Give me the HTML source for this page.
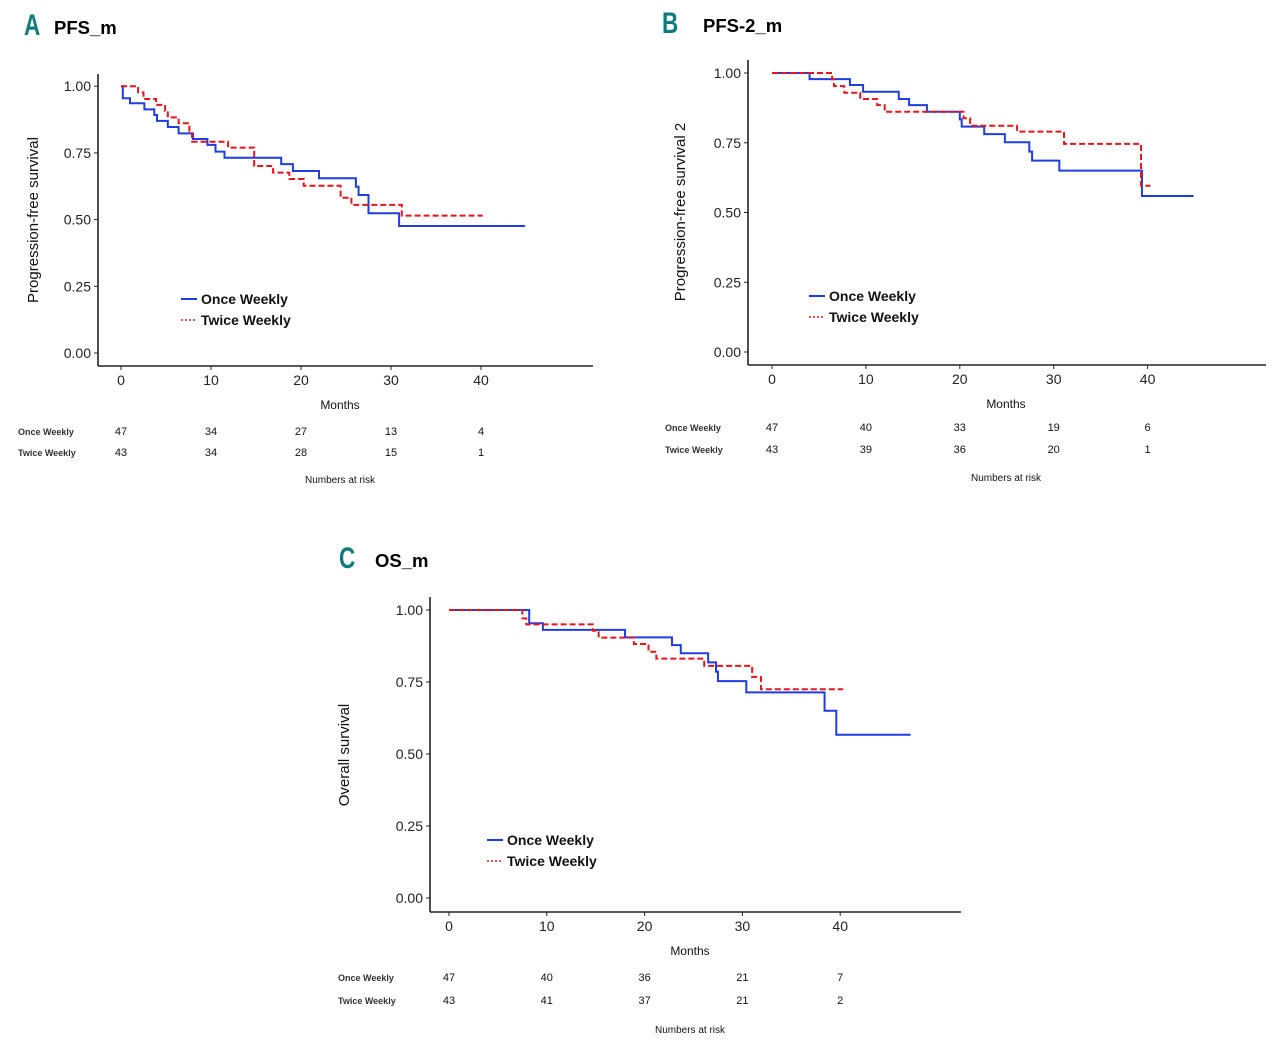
<!DOCTYPE html>
<html><head><meta charset="utf-8">
<style>
html,body{margin:0;padding:0;background:#fff;}
svg{display:block;font-family:"Liberation Sans",Arial,sans-serif;}
</style></head>
<body>
<svg id="fig" width="1280" height="1046" viewBox="0 0 1280 1046" xmlns="http://www.w3.org/2000/svg"></svg>
<script>
// ---- Data ----
const ticksX = [0, 10, 20, 30, 40];
const ticksY = [0, 0.25, 0.5, 0.75, 1.0];
const tickYLabels = ["0.00", "0.25", "0.50", "0.75", "1.00"];

const aOnceT = [0, 0.2, 1.0, 2.6, 3.7, 4.0, 5.2, 6.4, 8.0, 9.6, 10.5, 11.5, 17.8, 19.1, 22.0, 26.1, 26.4, 27.5, 30.9, 44.9];
const aOnceS = [1.0, 0.955, 0.936, 0.913, 0.892, 0.870, 0.847, 0.823, 0.802, 0.780, 0.755, 0.732, 0.708, 0.682, 0.655, 0.623, 0.592, 0.524, 0.476, 0.476];
const aTwiceT = [0, 1.9, 2.5, 3.9, 4.9, 5.2, 6.4, 7.6, 7.9, 11.9, 14.8, 16.9, 18.7, 20.3, 24.4, 25.6, 31.2, 40.2];
const aTwiceS = [1.0, 0.977, 0.952, 0.930, 0.907, 0.883, 0.861, 0.823, 0.792, 0.770, 0.701, 0.676, 0.652, 0.627, 0.582, 0.555, 0.515, 0.515];
const aRiskOnce = [47, 34, 27, 13, 4];
const aRiskTwice = [43, 34, 28, 15, 1];

const bOnceT = [0, 4.0, 8.3, 9.7, 13.5, 14.6, 16.5, 20.0, 20.2, 22.6, 24.8, 27.4, 27.7, 30.6, 39.4, 44.9];
const bOnceS = [1.0, 0.978, 0.957, 0.933, 0.907, 0.885, 0.861, 0.834, 0.808, 0.781, 0.752, 0.718, 0.686, 0.650, 0.559, 0.559];
const bTwiceT = [0, 6.4, 6.6, 7.7, 9.4, 11.2, 12.0, 20.4, 21.1, 26.1, 31.1, 39.3, 40.3];
const bTwiceS = [1.0, 0.977, 0.953, 0.929, 0.907, 0.885, 0.861, 0.838, 0.811, 0.790, 0.746, 0.596, 0.596];
const bRiskOnce = [47, 40, 33, 19, 6];
const bRiskTwice = [43, 39, 36, 20, 1];

const cOnceT = [0, 8.2, 9.6, 18.0, 22.8, 23.7, 26.5, 27.3, 27.5, 30.4, 38.4, 39.6, 47.2];
const cOnceS = [1.0, 0.954, 0.931, 0.905, 0.878, 0.850, 0.818, 0.786, 0.753, 0.714, 0.650, 0.567, 0.567];
const cTwiceT = [0, 7.5, 7.9, 14.7, 15.3, 18.9, 20.4, 21.2, 26.1, 31.0, 31.9, 40.3];
const cTwiceS = [1.0, 0.971, 0.950, 0.928, 0.904, 0.882, 0.855, 0.831, 0.806, 0.768, 0.725, 0.725];
const cRiskOnce = [47, 40, 36, 21, 7];
const cRiskTwice = [43, 41, 37, 21, 2];

const NS = "http://www.w3.org/2000/svg";
const svg = document.getElementById("fig");
function mk(tag, attrs, parent, text) {
  const e = document.createElementNS(NS, tag);
  for (const k in attrs) e.setAttribute(k, attrs[k]);
  if (text !== undefined) e.textContent = text;
  (parent || svg).appendChild(e);
  return e;
}
function stepPath(T, S, sx, sy) {
  let d = "M" + sx(T[0]) + "," + sy(S[0]);
  for (let i = 1; i < T.length; i++) {
    d += " H" + sx(T[i]) + " V" + sy(S[i]);
  }
  return d;
}

function panel(cfg) {
  const g = mk("g", {});
  
  
  const sx = t => cfg.x0 + t * cfg.pxm;
  const sy = s => cfg.y0 - s * cfg.pxs;
  const L = mk("text", {x: cfg.letterX, y: cfg.letterY, "font-size": 30, "font-weight": "bold", fill: "#0e7c7b", "font-family": "Liberation Sans Narrow, Liberation Sans, sans-serif", transform: `scale(0.75,1)`, "transform-origin": `${cfg.letterX} ${cfg.letterY}`}, g, cfg.letter);
  
  
  const tt = mk("text", {x: cfg.titleX, y: cfg.letterY - 1, "font-size": 18.5, "font-weight": "bold", fill: "#000"}, g, cfg.title);
  
  
  const ya = mk("line", {x1: cfg.axX, y1: cfg.axTop, x2: cfg.axX, y2: cfg.axY, stroke: "#222", "stroke-width": 1.6}, g);
  
  
  const xa = mk("line", {x1: cfg.axX, y1: cfg.axY, x2: cfg.axRight, y2: cfg.axY, stroke: "#222", "stroke-width": 1.6}, g);
  
  
  ticksY.forEach((v, i) => {
    mk("line", {x1: cfg.axX - 4, y1: sy(v), x2: cfg.axX, y2: sy(v), stroke: "#222", "stroke-width": 1}, g);
    const t = mk("text", {x: cfg.axX - 7, y: sy(v) + 5, "font-size": 14, "text-anchor": "end", fill: "#222"}, g, tickYLabels[i]);
    
    
  });
  ticksX.forEach(v => {
    mk("line", {x1: sx(v), y1: cfg.axY, x2: sx(v), y2: cfg.axY + 4, stroke: "#222", "stroke-width": 1}, g);
    const t = mk("text", {x: sx(v), y: cfg.axY + 19, "font-size": 14, "text-anchor": "middle", fill: "#222"}, g, String(v));
    
    
  });
  const yt = mk("text", {x: 0, y: 0, "font-size": 15, "text-anchor": "middle", fill: "#111", transform: `translate(${cfg.yTitleX},${cfg.yTitleY}) rotate(-90)`}, g, cfg.yTitle);
  
  
  const xt = mk("text", {x: cfg.monthsX, y: cfg.axY + 43, "font-size": 12, "text-anchor": "middle", fill: "#111"}, g, "Months");
  
  
  const pO = mk("path", {d: stepPath(cfg.oT, cfg.oS, sx, sy), fill: "none", stroke: "#1f3de0", "stroke-width": 2}, g);
  
  
  const pT = mk("path", {d: stepPath(cfg.tT, cfg.tS, sx, sy), fill: "none", stroke: "#e8141c", "stroke-width": 2, "stroke-dasharray": "6,3"}, g);
  
  
  const lg = mk("g", {}, g);
  
  
  mk("line", {x1: cfg.legX, y1: cfg.legY, x2: cfg.legX + 16, y2: cfg.legY, stroke: "#1f3de0", "stroke-width": 2}, lg);
  const l1 = mk("text", {x: cfg.legX + 20, y: cfg.legY + 5, "font-size": 14, "font-weight": "bold", fill: "#111"}, lg, "Once Weekly");
  
  
  mk("line", {x1: cfg.legX, y1: cfg.legY + 21, x2: cfg.legX + 16, y2: cfg.legY + 21, stroke: "#e8141c", "stroke-width": 1.5, "stroke-dasharray": "2,2"}, lg);
  const l2 = mk("text", {x: cfg.legX + 20, y: cfg.legY + 26, "font-size": 14, "font-weight": "bold", fill: "#111"}, lg, "Twice Weekly");
  
  
  const rt = mk("g", {}, g);
  
  
  const n1 = mk("text", {x: cfg.riskLabelX, y: cfg.risk1Y + 4, "font-size": 9, "font-weight": "bold", fill: "#333"}, rt, "Once Weekly");
  
  
  const n2 = mk("text", {x: cfg.riskLabelX, y: cfg.risk2Y + 4, "font-size": 9, "font-weight": "bold", fill: "#333"}, rt, "Twice Weekly");
  
  
  ticksX.forEach((v, i) => {
    const a = mk("text", {x: sx(v), y: cfg.risk1Y + 4, "font-size": 11, "text-anchor": "middle", fill: "#111"}, rt, String(cfg.r1[i]));
    
    
    const b = mk("text", {x: sx(v), y: cfg.risk2Y + 4, "font-size": 11, "text-anchor": "middle", fill: "#111"}, rt, String(cfg.r2[i]));
    
    
  });
  const nr = mk("text", {x: cfg.monthsX, y: cfg.nrY, "font-size": 10, "text-anchor": "middle", fill: "#111"}, rt, "Numbers at risk");
  
  
}

panel({id: "pfs", letter: "A", letterX: 24, letterY: 35, titleX: 54, title: "PFS_m",
  x0: 121, pxm: 9.0, y0: 353, pxs: 266.8, axX: 98, axTop: 74, axY: 366, axRight: 593,
  yTitle: "Progression-free survival", yTitleX: 38, yTitleY: 220, monthsX: 340,
  oT: aOnceT, oS: aOnceS, tT: aTwiceT, tS: aTwiceS, legX: 181, legY: 299,
  riskLabelX: 18, risk1Y: 431, risk2Y: 452, r1: aRiskOnce, r2: aRiskTwice, nrY: 483});

panel({id: "pfs2", letter: "B", letterX: 662, letterY: 33, titleX: 703, title: "PFS-2_m",
  x0: 772, pxm: 9.39, y0: 352, pxs: 279, axX: 748, axTop: 60, axY: 365, axRight: 1266,
  yTitle: "Progression-free survival 2", yTitleX: 685, yTitleY: 212, monthsX: 1006,
  oT: bOnceT, oS: bOnceS, tT: bTwiceT, tS: bTwiceS, legX: 809, legY: 296,
  riskLabelX: 665, risk1Y: 427, risk2Y: 449, r1: bRiskOnce, r2: bRiskTwice, nrY: 481});

panel({id: "os", letter: "C", letterX: 339, letterY: 568, titleX: 375, title: "OS_m",
  x0: 449, pxm: 9.78, y0: 898, pxs: 288, axX: 430, axTop: 597, axY: 912, axRight: 961,
  yTitle: "Overall survival", yTitleX: 349, yTitleY: 755, monthsX: 690,
  oT: cOnceT, oS: cOnceS, tT: cTwiceT, tS: cTwiceS, legX: 487, legY: 840,
  riskLabelX: 338, risk1Y: 977, risk2Y: 1000, r1: cRiskOnce, r2: cRiskTwice, nrY: 1033});
</script>
</body></html>
